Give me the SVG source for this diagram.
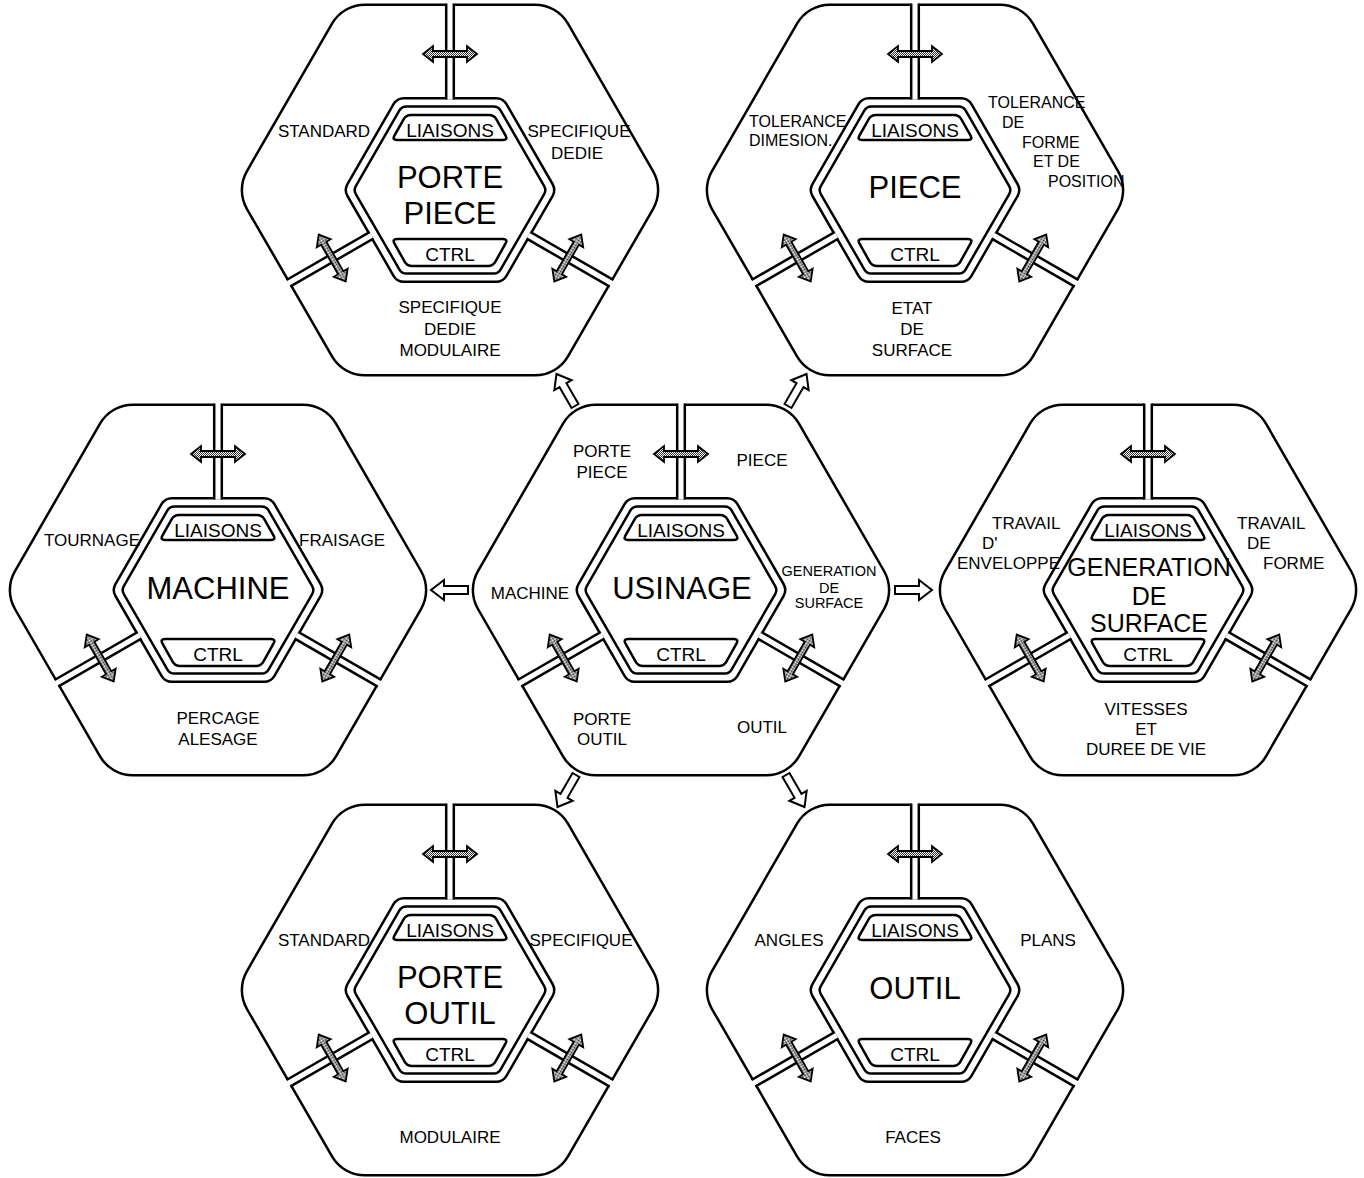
<svg xmlns="http://www.w3.org/2000/svg" width="1364" height="1178" viewBox="0 0 1364 1178">
<style>
  .ln{fill:none;stroke:#000;stroke-width:2.5}
  .band{fill:#fff;stroke:none}
  .dv{fill:none;stroke:#000;stroke-width:2.5;stroke-linecap:square}
  .dbl{fill:url(#dither);stroke:#000;stroke-width:1.8}
  .flow{fill:#fff;stroke:#000;stroke-width:2}
  text{font-family:"Liberation Sans",Arial,Helvetica,sans-serif;fill:#000}
  .t{font-size:31px;text-anchor:middle}
  .m{font-size:25px;text-anchor:middle}
  .k{font-size:19px;text-anchor:middle}
  .s{font-size:17px;text-anchor:middle}
  .sl{font-size:17px}
  .r{font-size:16px}
  .g{font-size:14.5px;text-anchor:middle}
</style>
<defs>
  <!-- dithered grey used inside the two-way arrows -->
  <pattern id="dither" width="2" height="2" patternUnits="userSpaceOnUse">
    <rect width="2" height="2" fill="#fff"/>
    <rect width="1" height="1" fill="#333"/>
    <rect x="1" y="1" width="1" height="1" fill="#333"/>
  </pattern>
  <path id="dblArrow" class="dbl" d="M-27,0 L-17,-8 L-17,-3 L17,-3 L17,-8 L27,0 L17,8 L17,3 L-17,3 L-17,8 Z"/>
  <!-- one sector divider (double wall) with its crossing arrow, pointing up -->
  <g id="divider">
    <rect class="band" x="-3.8" y="-187" width="7.6" height="96.5"/>
    <path class="dv" d="M-3.8,-91.8 V-185.33 M3.8,-91.8 V-185.33"/>
    <use href="#dblArrow" y="-136"/>
  </g>
  <!-- common frame of every module: outer hexagon, double inner ring, boxes, dividers -->
  <g id="cell">
    <path class="ln" d="M-85.06,-185.33 L85.06,-185.33 A38,38 0 0 1 117.97,-166.33 L203.03,-19 A38,38 0 0 1 203.03,19 L117.97,166.33 A38,38 0 0 1 85.06,185.33 L-85.06,185.33 A38,38 0 0 1 -117.97,166.33 L-203.03,19 A38,38 0 0 1 -203.03,-19 L-117.97,-166.33 A38,38 0 0 1 -85.06,-185.33 Z"/>
    <path class="ln" d="M-46.07,-91.8 L46.07,-91.8 A12,12 0 0 1 56.46,-85.8 L102.54,-6 A12,12 0 0 1 102.54,6 L56.46,85.8 A12,12 0 0 1 46.07,91.8 L-46.07,91.8 A12,12 0 0 1 -56.46,85.8 L-102.54,6 A12,12 0 0 1 -102.54,-6 L-56.46,-85.8 A12,12 0 0 1 -46.07,-91.8 Z"/>
    <path class="ln" d="M-43.63,-83.57 L43.63,-83.57 A8,8 0 0 1 50.56,-79.57 L94.19,-4 A8,8 0 0 1 94.19,4 L50.56,79.57 A8,8 0 0 1 43.63,83.57 L-43.63,83.57 A8,8 0 0 1 -50.56,79.57 L-94.19,4 A8,8 0 0 1 -94.19,-4 L-50.56,-79.57 A8,8 0 0 1 -43.63,-83.57 Z"/>
    <path class="ln" d="M-39,-75 L39,-75 Q44,-75 46.4,-70.6 L55.6,-54.4 Q58,-50 53,-50 L-53,-50 Q-58,-50 -55.6,-54.4 L-46.4,-70.6 Q-44,-75 -39,-75 Z"/>
    <path class="ln" d="M-53,49 L53,49 Q58,49 55.6,53.4 L45.4,71.6 Q43,76 38,76 L-38,76 Q-43,76 -45.4,71.6 L-55.6,53.4 Q-58,49 -53,49 Z"/>
    <use href="#divider"/>
    <use href="#divider" transform="rotate(120)"/>
    <use href="#divider" transform="rotate(240)"/>
  </g>
  <!-- hollow block arrow, tail at origin, pointing along +x -->
  <path id="flow" class="flow" d="M0,-4 L24,-4 L24,-10 L37,0 L24,10 L24,4 L0,4 Z"/>
</defs>

<g id="porte-piece" transform="translate(450,190)">
  <use href="#cell"/>
  <text class="k" y="-53">LIAISONS</text>
  <text class="k" y="71">CTRL</text>
  <text class="t" y="-2">PORTE</text>
  <text class="t" y="34">PIECE</text>
  <text class="s" x="-126" y="-53">STANDARD</text>
  <text class="s" x="129" y="-53">SPECIFIQUE</text>
  <text class="s" x="127" y="-31">DEDIE</text>
  <text class="s" y="123">SPECIFIQUE</text>
  <text class="s" y="145">DEDIE</text>
  <text class="s" y="166">MODULAIRE</text>
</g>

<g id="piece" transform="translate(915,190)">
  <use href="#cell"/>
  <text class="k" y="-53">LIAISONS</text>
  <text class="k" y="71">CTRL</text>
  <text class="t" y="8">PIECE</text>
  <text class="r" x="-166" y="-63">TOLERANCE</text>
  <text class="r" x="-166" y="-44">DIMESION.</text>
  <text class="r" x="73" y="-82">TOLERANCE</text>
  <text class="r" x="87" y="-62">DE</text>
  <text class="r" x="107" y="-42">FORME</text>
  <text class="r" x="118" y="-23">ET DE</text>
  <text class="r" x="133" y="-3">POSITION</text>
  <text class="s" x="-3" y="124">ETAT</text>
  <text class="s" x="-3" y="145">DE</text>
  <text class="s" x="-3" y="166">SURFACE</text>
</g>

<g id="machine" transform="translate(218,590)">
  <use href="#cell"/>
  <text class="k" y="-53">LIAISONS</text>
  <text class="k" y="71">CTRL</text>
  <text class="t" y="9">MACHINE</text>
  <text class="s" x="-126" y="-44">TOURNAGE</text>
  <text class="s" x="124" y="-44">FRAISAGE</text>
  <text class="s" y="134">PERCAGE</text>
  <text class="s" y="155">ALESAGE</text>
</g>

<g id="usinage" transform="translate(681,590)">
  <use href="#cell"/>
  <text class="k" y="-53">LIAISONS</text>
  <text class="k" y="71">CTRL</text>
  <text class="t" x="1" y="9">USINAGE</text>
  <text class="s" x="-79" y="-133">PORTE</text>
  <text class="s" x="-79" y="-112">PIECE</text>
  <text class="s" x="81" y="-124">PIECE</text>
  <text class="s" x="-151" y="9">MACHINE</text>
  <text class="g" x="148" y="-14">GENERATION</text>
  <text class="g" x="148" y="3">DE</text>
  <text class="g" x="148" y="18">SURFACE</text>
  <text class="s" x="-79" y="135">PORTE</text>
  <text class="s" x="-79" y="155">OUTIL</text>
  <text class="s" x="81" y="143">OUTIL</text>
</g>

<g id="generation-de-surface" transform="translate(1148,590)">
  <use href="#cell"/>
  <text class="k" y="-53">LIAISONS</text>
  <text class="k" y="71">CTRL</text>
  <text class="m" x="1" y="-14">GENERATION</text>
  <text class="m" x="1" y="15">DE</text>
  <text class="m" x="1" y="42">SURFACE</text>
  <text class="sl" x="-156" y="-61">TRAVAIL</text>
  <text class="sl" x="-166" y="-41">D'</text>
  <text class="sl" x="-191" y="-21">ENVELOPPE</text>
  <text class="sl" x="89" y="-61">TRAVAIL</text>
  <text class="sl" x="99" y="-41">DE</text>
  <text class="sl" x="115" y="-21">FORME</text>
  <text class="s" x="-2" y="125">VITESSES</text>
  <text class="s" x="-2" y="145">ET</text>
  <text class="s" x="-2" y="165">DUREE DE VIE</text>
</g>

<g id="porte-outil" transform="translate(450,990)">
  <use href="#cell"/>
  <text class="k" y="-53">LIAISONS</text>
  <text class="k" y="71">CTRL</text>
  <text class="t" y="-2">PORTE</text>
  <text class="t" y="34">OUTIL</text>
  <text class="s" x="-126" y="-44">STANDARD</text>
  <text class="s" x="131" y="-44">SPECIFIQUE</text>
  <text class="s" y="153">MODULAIRE</text>
</g>

<g id="outil" transform="translate(915,990)">
  <use href="#cell"/>
  <text class="k" y="-53">LIAISONS</text>
  <text class="k" y="71">CTRL</text>
  <text class="t" y="9">OUTIL</text>
  <text class="s" x="-126" y="-44">ANGLES</text>
  <text class="s" x="133" y="-44">PLANS</text>
  <text class="s" x="-2" y="153">FACES</text>
</g>

<g id="connectors">
  <use href="#flow" transform="translate(468,590) rotate(180)"/>
  <use href="#flow" transform="translate(895,590)"/>
  <use href="#flow" transform="translate(575,406) rotate(-120)"/>
  <use href="#flow" transform="translate(788,406) rotate(-60)"/>
  <use href="#flow" transform="translate(576,775) rotate(120)"/>
  <use href="#flow" transform="translate(786,775) rotate(60)"/>
</g>
</svg>
